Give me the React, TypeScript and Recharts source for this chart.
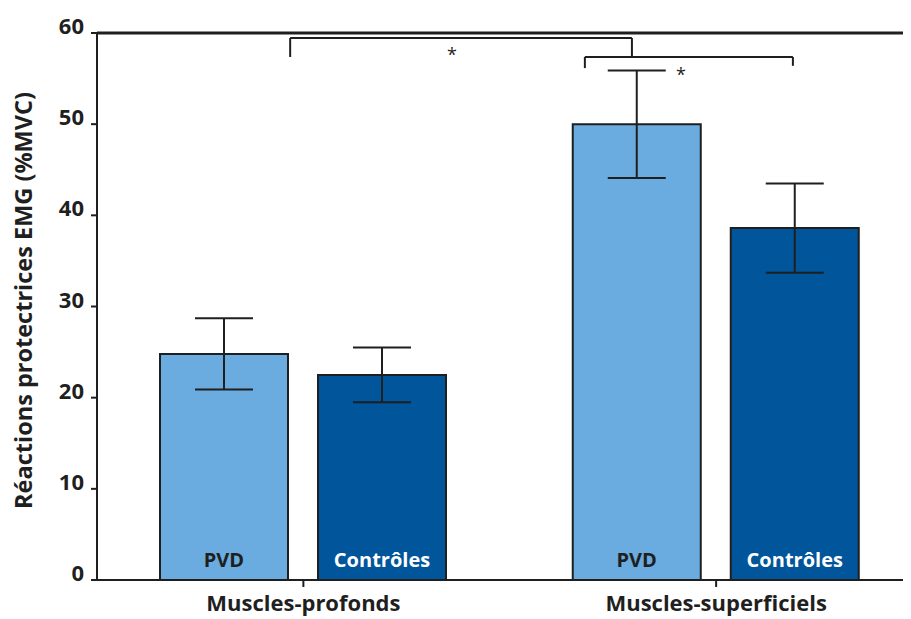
import {
  Bar,
  BarChart,
  ErrorBar,
  LabelList,
  ReferenceDot,
  ReferenceLine,
  XAxis,
  YAxis,
} from 'recharts';

// values (means and +/- error)
const categories = ['Muscles-profonds', 'Muscles-superficiels'];
const pvdMeans = [24.8, 50.0];
const pvdErrors = [3.9, 5.9];
const controlMeans = [22.5, 38.6];
const controlErrors = [3.0, 4.9];
const yTicks = [0, 10, 20, 30, 40, 50, 60];

// significance brackets, x in a 0..2 span over the two categories
const bracketX1 = [0.468, 1.182];
const bracketX2 = [1.296, 1.686];
const bracketTop = [59.45, 57.37];
const bracketLeftEnd = [57.37, 56.15];
const bracketRightEnd = [57.37, 56.4];
const starX = [0.86, 1.415];
const starY = [57.6, 55.4];

const data = categories.map((name, i) => ({
  name,
  pos: i + 0.5,
  pvd: pvdMeans[i],
  pvdErr: pvdErrors[i],
  ctrl: controlMeans[i],
  ctrlErr: controlErrors[i],
}));

const FONT = '"Open Sans", "Noto Sans", sans-serif';
const INK = '#1f1f1f';

function YTick(props: any) {
  const { x, y, payload } = props;
  return (
    <text x={x} y={y + 1} textAnchor='end' fontFamily={FONT} fontWeight={700} fontSize={22} fill={INK}>
      {payload.value}
    </text>
  );
}

export default function App() {
  return (
    <div style={{ width: 903, height: 611, overflow: 'hidden' }}>
      <BarChart
        width={940}
        height={611}
        data={data}
        margin={{ top: 25, right: 25.5, left: 0, bottom: 4 }}
        barSize={128}
        barGap={30}>
        <XAxis
          dataKey='name'
          height={35}
          axisLine={{ stroke: INK, strokeWidth: 2 }}
          tickLine={{ stroke: INK, strokeWidth: 2 }}
          tickSize={7}
          tickMargin={8}
          tick={{ fontFamily: FONT, fontWeight: 700, fontSize: 22, fill: INK }}
        />
        <XAxis xAxisId='num' dataKey='pos' type='number' domain={[0, 2]} allowDataOverflow hide />
        <YAxis
          width={89}
          domain={[0, 60]}
          ticks={yTicks}
          interval={0}
          axisLine={{ stroke: INK, strokeWidth: 2 }}
          tickLine={{ stroke: INK, strokeWidth: 2 }}
          tickSize={6}
          tickMargin={7}
          tick={<YTick />}
          label={{
            value: 'Réactions protectrices EMG (%MVC)',
            angle: -90,
            position: 'center',
            dx: -29,
            dy: -6,
            style: { fontFamily: FONT, fontWeight: 700, fontSize: 23.5, fill: INK },
          }}
        />
        <ReferenceLine y={60} stroke={INK} strokeWidth={3} ifOverflow='visible' />
        <Bar dataKey='pvd' fill='#6aacdf' stroke={INK} strokeWidth={2} isAnimationActive={false}>
          <ErrorBar dataKey='pvdErr' width={29} stroke={INK} strokeWidth={2} direction='y' />
          <LabelList
            dataKey='pvd'
            position='insideBottom'
            offset={13}
            formatter={() => 'PVD'}
            style={{ fontFamily: FONT, fontWeight: 700, fontSize: 20, fill: INK }}
          />
        </Bar>
        <Bar dataKey='ctrl' fill='#00559b' stroke={INK} strokeWidth={2} isAnimationActive={false}>
          <ErrorBar dataKey='ctrlErr' width={29} stroke={INK} strokeWidth={2} direction='y' />
          <LabelList
            dataKey='ctrl'
            position='insideBottom'
            offset={13}
            formatter={() => 'Contrôles'}
            style={{ fontFamily: FONT, fontWeight: 700, fontSize: 20, fill: '#ffffff' }}
          />
        </Bar>
        {bracketX1.map((x1, i) => (
          <ReferenceLine
            key={`top-${i}`}
            xAxisId='num'
            segment={[{ x: x1, y: bracketTop[i] }, { x: bracketX2[i], y: bracketTop[i] }]}
            stroke={INK}
            strokeWidth={2}
            ifOverflow='visible'
          />
        ))}
        {bracketX1.map((x1, i) => (
          <ReferenceLine
            key={`left-${i}`}
            xAxisId='num'
            segment={[{ x: x1, y: bracketTop[i] }, { x: x1, y: bracketLeftEnd[i] }]}
            stroke={INK}
            strokeWidth={2}
            ifOverflow='visible'
          />
        ))}
        {bracketX2.map((x2, i) => (
          <ReferenceLine
            key={`right-${i}`}
            xAxisId='num'
            segment={[{ x: x2, y: bracketTop[i] }, { x: x2, y: bracketRightEnd[i] }]}
            stroke={INK}
            strokeWidth={2}
            ifOverflow='visible'
          />
        ))}
        {starX.map((x, i) => (
          <ReferenceDot
            key={`star-${i}`}
            xAxisId='num'
            x={x}
            y={starY[i]}
            r={0}
            ifOverflow='visible'
            label={{ value: '*', position: 'center', style: { fontFamily: FONT, fontSize: 18, fill: INK } }}
          />
        ))}
      </BarChart>
    </div>
  );
}
